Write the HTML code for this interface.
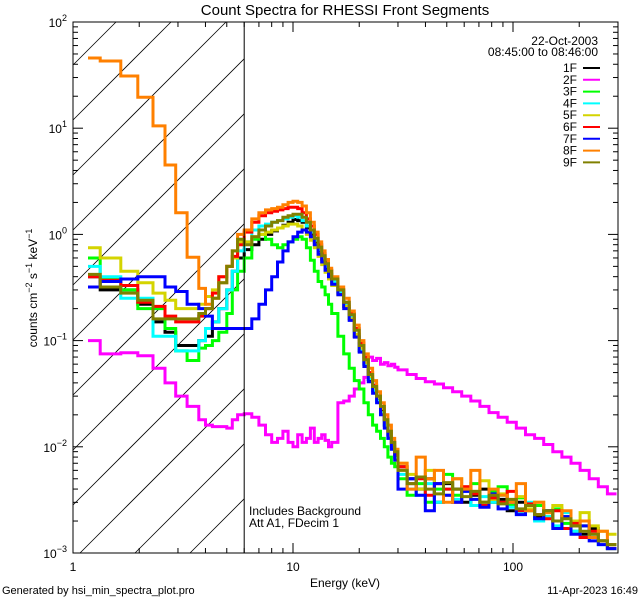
<!DOCTYPE html>
<html><head><meta charset="utf-8"><style>
html,body{margin:0;padding:0;background:#fff;width:640px;height:600px;overflow:hidden}
svg{display:block;font-family:"Liberation Sans",sans-serif}
</style></head><body>
<svg id="chart" width="640" height="600" viewBox="0 0 640 600">
<defs><clipPath id="plotclip"><rect x="73" y="22" width="545" height="531"/></clipPath></defs>
<rect width="640" height="600" fill="#fff"/>
<text x="345" y="15" font-size="15" text-anchor="middle">Count Spectra for RHESSI Front Segments</text>
<g id="hatch"></g>
<g id="series" clip-path="url(#plotclip)"></g>
<g id="axes"></g>
<text x="345" y="587" font-size="12" text-anchor="middle">Energy (keV)</text>
<text transform="translate(37,288) rotate(-90)" font-size="12" text-anchor="middle">counts cm<tspan dy="-5" font-size="9">−2</tspan><tspan dy="5"> s</tspan><tspan dy="-5" font-size="9">−1</tspan><tspan dy="5"> keV</tspan><tspan dy="-5" font-size="9">−1</tspan></text>
<text x="249" y="515" font-size="12">Includes Background</text>
<text x="249" y="527" font-size="12">Att A1, FDecim 1</text>
<text x="2" y="594" font-size="11">Generated by hsi_min_spectra_plot.pro</text>
<text x="638" y="594" font-size="11" text-anchor="end">11-Apr-2023 16:49</text>
<text x="598" y="45" font-size="12" text-anchor="end">22-Oct-2003</text>
<text x="598" y="56" font-size="12" text-anchor="end">08:45:00 to 08:46:00</text>
<g id="legend"></g>
</svg>
<script>
const NS="http://www.w3.org/2000/svg";
const seriesNames=["1F","2F","3F","4F","5F","6F","7F","8F","9F"];
const seriesColors=["#000000","#ff00ff","#00ff00","#00ffff","#d4d400","#ff0000","#0000ff","#ff8000","#808000"];
const lowEdges=[1.17,1.33,1.65,1.97,2.31,2.62,2.93,3.30,3.73,4.0,4.3,4.6,5.0,5.3,5.6,6.0];
const midStep=0.5, midEnd=15, hiStep=1, hiEnd=30, topRatio=1.1, topBins=24;
const s1F=[0.40,0.30,0.30,0.22,0.15,0.12,0.09,0.09,0.10,0.11,0.15,0.2,0.3,0.45,0.6,
0.72,0.8,0.9,1.0,1.08,1.15,1.22,1.3,1.38,1.35,1.3,1.15,1.0,0.85,0.7,0.58,0.48,0.42,
0.35,0.28,0.21,0.16,0.11,0.08,0.06,0.043,0.034,0.028,0.022,0.016,0.013,0.01,0.008,
0.0065,0.005,0.004,0.005,0.003,0.0045,0.004,0.003,0.0035,0.004,0.003,0.0032,0.0025,0.003,0.0028,0.0022,0.0025,0.002,0.0022,0.0018,0.0015,0.0017,0.0013,0.0012];
const s2F=[0.1,0.075,0.077,0.072,0.055,0.04,0.03,0.024,0.018,0.016,0.0155,0.0155,0.015,0.018,0.02,
0.0205,0.019,0.016,0.013,0.011,0.012,0.014,0.011,0.010,0.013,0.011,0.012,0.015,0.011,0.012,0.013,0.0115,0.010,
0.011,0.026,0.027,0.03,0.035,0.04,0.045,0.07,0.065,0.068,0.06,0.062,0.058,0.06,0.056,
0.053,0.048,0.044,0.041,0.039,0.036,0.033,0.03,0.027,0.024,0.021,0.019,0.017,0.015,0.013,0.012,0.0105,0.009,0.008,0.007,0.006,0.005,0.0042,0.0036];
const s3F=[0.60,0.38,0.30,0.20,0.20,0.13,0.08,0.065,0.085,0.09,0.1,0.12,0.18,0.3,0.45,
0.6,0.9,1.0,0.9,0.8,0.75,0.8,0.85,0.9,0.95,0.9,0.75,0.57,0.45,0.36,0.32,0.27,0.22,
0.18,0.11,0.075,0.055,0.042,0.035,0.026,0.02,0.016,0.014,0.012,0.01,0.008,0.007,0.0065,
0.005,0.0035,0.0045,0.003,0.004,0.0055,0.0035,0.004,0.0045,0.003,0.0038,0.0042,0.0028,0.0033,0.0025,0.0028,0.0022,0.0026,0.0019,0.0016,0.0018,0.0014,0.0013,0.0011];
const s4F=[0.50,0.40,0.25,0.25,0.11,0.11,0.08,0.08,0.1,0.13,0.15,0.2,0.3,0.45,0.7,
0.85,1.1,1.2,1.25,1.3,1.35,1.4,1.45,1.5,1.45,1.35,1.2,1.05,0.88,0.72,0.6,0.5,0.42,
0.36,0.29,0.22,0.165,0.115,0.082,0.06,0.044,0.034,0.027,0.021,0.016,0.012,0.0095,0.0078,
0.0055,0.004,0.0035,0.0045,0.003,0.004,0.0032,0.0038,0.0028,0.0034,0.003,0.0035,0.0027,0.0024,0.003,0.002,0.0022,0.0018,0.0024,0.0016,0.0014,0.0015,0.0012,0.0011];
const s5F=[0.75,0.6,0.45,0.35,0.28,0.24,0.2,0.2,0.22,0.26,0.3,0.4,0.5,0.6,0.85,
0.85,0.95,1.0,1.05,1.1,1.15,1.2,1.25,1.25,1.2,1.1,1.0,0.88,0.75,0.62,0.52,0.44,0.38,
0.33,0.27,0.21,0.16,0.115,0.085,0.062,0.046,0.036,0.029,0.023,0.017,0.013,0.0105,0.0085,
0.007,0.0055,0.004,0.006,0.0045,0.0035,0.005,0.0042,0.0038,0.0048,0.0032,0.0036,0.003,0.0034,0.0026,0.003,0.0024,0.0028,0.0022,0.002,0.0024,0.0018,0.0016,0.0015];
const s6F=[0.40,0.37,0.33,0.23,0.21,0.17,0.15,0.15,0.17,0.2,0.28,0.4,0.5,0.62,0.8,
1.05,1.3,1.5,1.6,1.65,1.7,1.75,1.8,1.8,1.75,1.6,1.4,1.2,1.0,0.8,0.66,0.55,0.46,
0.38,0.3,0.23,0.18,0.13,0.095,0.07,0.05,0.038,0.03,0.024,0.018,0.014,0.011,0.0085,
0.0065,0.0045,0.005,0.0035,0.0045,0.004,0.003,0.0042,0.0036,0.0028,0.0033,0.003,0.0038,0.0025,0.0029,0.0023,0.0021,0.0025,0.0017,0.0019,0.0014,0.0016,0.0013,0.0011];
const s7F=[0.32,0.36,0.38,0.40,0.40,0.32,0.29,0.22,0.2,0.17,0.13,0.13,0.13,0.13,0.13,
0.13,0.16,0.22,0.3,0.4,0.55,0.7,0.85,0.95,1.05,1.1,1.05,0.95,0.8,0.65,0.55,0.46,0.4,
0.34,0.27,0.2,0.155,0.108,0.078,0.057,0.041,0.032,0.026,0.02,0.015,0.012,0.0095,0.0075,
0.004,0.005,0.0035,0.0025,0.0045,0.0035,0.003,0.0038,0.0032,0.0027,0.0036,0.0026,0.003,0.0023,0.0028,0.0021,0.0025,0.0017,0.0022,0.0015,0.0018,0.0013,0.0012,0.0011];
const s8F=[45.8,42.9,31,19.6,10.5,4.5,1.6,0.61,0.31,0.22,0.25,0.35,0.5,0.7,1.0,
1.1,1.4,1.6,1.7,1.75,1.8,1.9,2.0,2.05,2.0,1.85,1.6,1.3,1.05,0.85,0.7,0.58,0.48,
0.4,0.32,0.25,0.19,0.14,0.1,0.075,0.055,0.042,0.033,0.026,0.02,0.016,0.012,0.0095,
0.007,0.004,0.008,0.005,0.006,0.003,0.005,0.004,0.006,0.003,0.004,0.0035,0.003,0.0045,0.0025,0.003,0.0024,0.002,0.0025,0.0018,0.002,0.0014,0.0016,0.0012];
const s9F=[0.42,0.32,0.28,0.24,0.16,0.16,0.16,0.16,0.18,0.2,0.25,0.35,0.5,0.7,0.9,
0.8,0.95,1.1,1.2,1.3,1.35,1.45,1.5,1.55,1.55,1.45,1.3,1.1,0.92,0.76,0.63,0.53,0.45,
0.38,0.3,0.23,0.175,0.125,0.09,0.066,0.048,0.037,0.03,0.024,0.018,0.014,0.011,0.009,
0.006,0.0045,0.0052,0.004,0.0036,0.0046,0.004,0.0034,0.0038,0.003,0.0035,0.0029,0.0032,0.0026,0.0028,0.0023,0.0025,0.002,0.0021,0.0018,0.0016,0.0015,0.0013,0.0012];
const seriesData=[s1F,s2F,s3F,s4F,s5F,s6F,s7F,s8F,s9F];
const xTicks=[1,10,100], xTickLabels=["1","10","100"];
const yDecades=[2,1,0,-1,-2,-3];

const X0=73,X1=618,Y0=22,Y1=553,XDEC=220,YDEC=(Y1-Y0)/5;
const xs=e=>X0+Math.log10(e)*XDEC;
const ys=v=>Y0+(2-Math.log10(v))*YDEC;

const edges=lowEdges.slice();
for(let e=6+midStep;e<=midEnd+1e-9;e+=midStep)edges.push(+e.toFixed(3));
for(let e=midEnd+hiStep;e<=hiEnd+1e-9;e+=hiStep)edges.push(e);
for(let i=0;i<topBins;i++)edges.push(edges[edges.length-1]*topRatio);

function mk(tag,attrs,parent){const el=document.createElementNS(NS,tag);for(const k in attrs)el.setAttribute(k,attrs[k]);parent.appendChild(el);return el;}

const hatch=document.getElementById('hatch');
const HX1=xs(6);
for(let b=-100;b<Y1+(HX1-X0)+60;b+=55){
  // line: y = b - (x - X0)
  const dxa=Math.max(0,b-Y1), dxb=Math.min(HX1-X0,b-Y0);
  if(dxb<=dxa)continue;
  const l=mk('line',{x1:X0+dxa,y1:b-dxa,x2:X0+dxb,y2:b-dxb,stroke:'#000','stroke-width':0.8},hatch);
  
  
}
const axes=document.getElementById('axes');
const sep=mk('line',{x1:HX1,y1:Y0,x2:HX1,y2:Y1,stroke:'#000','stroke-width':1},axes);



const sg=document.getElementById('series');
seriesData.forEach((vals,si)=>{
  let d='';
  for(let i=0;i<vals.length&&i+1<edges.length;i++){
    const xa=xs(edges[i]),xb=Math.min(xs(edges[i+1]),X1),y=Math.min(Math.max(ys(vals[i]),Y0),Y1);
    d+=(i===0?'M':'L')+xa.toFixed(1)+','+y.toFixed(1)+'L'+xb.toFixed(1)+','+y.toFixed(1);
  }
  const p=mk('path',{d:d,fill:'none',stroke:seriesColors[si],'stroke-width':3},sg);
  
  
});

const fr=mk('rect',{x:X0,y:Y0,width:X1-X0,height:Y1-Y0,fill:'none',stroke:'#000','stroke-width':1},axes);


for(let dec=0;dec<=2;dec++){for(let m=1;m<=9;m++){const e=m*Math.pow(10,dec);const x=xs(e);if(x>X1)break;const len=m===1?10:5;
  mk('line',{x1:x,y1:Y1,x2:x,y2:Y1-len,stroke:'#000'},axes);mk('line',{x1:x,y1:Y0,x2:x,y2:Y0+len,stroke:'#000'},axes);}}
xTicks.forEach((t,i)=>{const tx=mk('text',{x:xs(t),y:Y1+18,'font-size':12,'text-anchor':'middle'},axes);tx.textContent=xTickLabels[i];
  
  });
yDecades.forEach(p=>{for(let m=1;m<=9;m++){const v=m*Math.pow(10,p);const y=ys(v);if(y<Y0-0.5)break;const len=m===1?10:5;
  mk('line',{x1:X0,y1:y,x2:X0+len,y2:y,stroke:'#000'},axes);mk('line',{x1:X1,y1:y,x2:X1-len,y2:y,stroke:'#000'},axes);}
  const t=mk('text',{x:67,y:ys(Math.pow(10,p))+5,'font-size':12,'text-anchor':'end'},axes);
  t.innerHTML='10<tspan dy="-6" font-size="9">'+(p<0?'−'+(-p):p)+'</tspan>';
  
  });

const lg=document.getElementById('legend');
seriesNames.forEach((n,i)=>{const y=68+i*11.8;
  const t=mk('text',{x:577,y:y+4,'font-size':12,'text-anchor':'end'},lg);t.textContent=n;
  
  
  const l=mk('line',{x1:583,y1:y,x2:600,y2:y,stroke:seriesColors[i],'stroke-width':2},lg);
  
  });
</script>
</body></html>
